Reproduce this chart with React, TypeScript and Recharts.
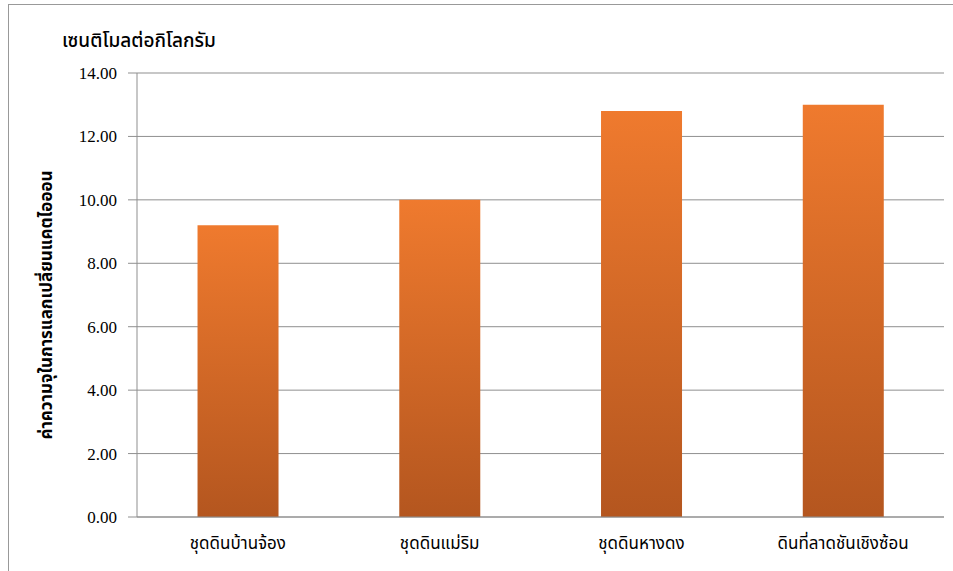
import React from "react";
import { BarChart, Bar, XAxis, YAxis, CartesianGrid } from "recharts";

const soils = ["ชุดดินบ้านจ้อง", "ชุดดินแม่ริม", "ชุดดินหางดง", "ดินที่ลาดชันเชิงซ้อน"];
const cec = [9.2, 10.0, 12.8, 13.0];
const yTicks = [0, 2, 4, 6, 8, 10, 12, 14];

const data = soils.map((name, i) => ({ name, cec: cec[i] }));

const thaiFont = "'Noto Sans Thai', 'Noto Sans', 'DejaVu Sans', sans-serif";

function YTitle(props: any) {
  const vb = props.viewBox;
  const cx = 47;
  const cy = vb.y + vb.height / 2 + 10;
  return (
    <text
      x={cx}
      y={cy}
      transform={`rotate(-90, ${cx}, ${cy})`}
      textAnchor="middle"
      dominantBaseline="central"
      fontFamily={thaiFont}
      fontWeight="bold"
      fontSize={17}
      fill="#000"
    >
      ค่าความจุในการแลกเปลี่ยนแคตไอออน
    </text>
  );
}

export default function App() {
  return (
    <div style={{ position: "absolute", left: 0, top: 0, width: 953, height: 571, background: "#fff" }}>
      <div
        style={{
          position: "absolute",
          left: 8,
          top: 4,
          width: 960,
          height: 580,
          borderTop: "1px solid #999",
          borderLeft: "1px solid #999",
        }}
      />
      <div
        style={{
          position: "absolute",
          left: 62,
          top: 27,
          fontFamily: thaiFont,
          fontSize: 19,
          fontWeight: 500,
          color: "#000",
        }}
      >
        เซนติโมลต่อกิโลกรัม
      </div>
      <div style={{ position: "absolute", left: 0, top: 0 }}>
        <BarChart
          width={953}
          height={571}
          data={data}
          margin={{ top: 73, right: 9, bottom: 24, left: 0 }}
          barCategoryGap="30%"
        >
          <defs>
            <linearGradient id="barGrad" x1="0" y1="0" x2="0" y2="1">
              <stop offset="0%" stopColor="#EF7A2E" />
              <stop offset="100%" stopColor="#B4561F" />
            </linearGradient>
          </defs>
          <CartesianGrid vertical={false} stroke="#8f8f8f" strokeWidth={1} />
          <XAxis
            dataKey="name"
            axisLine={{ stroke: "#8f8f8f" }}
            tickLine={false}
            tick={{ fill: "#000", fontSize: 17, fontFamily: thaiFont }}
            tickMargin={14}
          />
          <YAxis
            width={137}
            domain={[0, 14]}
            ticks={yTicks}
            tickFormatter={(v: number) => v.toFixed(2)}
            axisLine={{ stroke: "#8f8f8f" }}
            tickLine={{ stroke: "#8f8f8f" }}
            tickSize={9}
            tickMargin={11}
            tick={{ fill: "#000", fontSize: 17, fontFamily: "'Liberation Serif', serif" }}
            label={<YTitle />}
          />
          <Bar dataKey="cec" fill="url(#barGrad)" isAnimationActive={false} />
        </BarChart>
      </div>
    </div>
  );
}
